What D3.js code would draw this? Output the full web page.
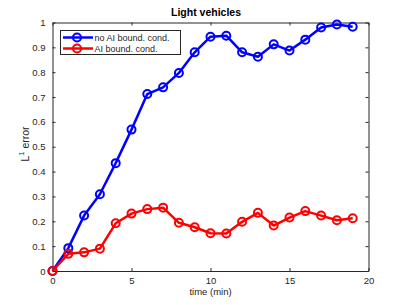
<!DOCTYPE html>
<html>
<head>
<meta charset="utf-8">
<script src="https://cdn.jsdelivr.net/npm/d3@7"></script>
<style>
  body { margin: 0; background: #fff; }
  text { font-family: "Liberation Sans", Arial, sans-serif; }
</style>
</head>
<body>
<div id="chart"></div>
<script>
// Data
const times = [0, 1, 2, 3, 4, 5, 6, 7, 8, 9, 10, 11, 12, 13, 14, 15, 16, 17, 18, 19];
const noAI = [0, 0.092, 0.223, 0.309, 0.434, 0.569, 0.712, 0.739, 0.797, 0.880,
  0.943, 0.947, 0.880, 0.862, 0.912, 0.887, 0.931, 0.980, 0.992, 0.983];
const withAI = [0, 0.069, 0.075, 0.090, 0.192, 0.231, 0.249, 0.255, 0.194, 0.176,
  0.152, 0.151, 0.198, 0.234, 0.183, 0.215, 0.241, 0.223, 0.204, 0.212];
const xTicks = [0, 5, 10, 15, 20];
const yTicks = [0, 0.1, 0.2, 0.3, 0.4, 0.5, 0.6, 0.7, 0.8, 0.9, 1];
const seriesNames = ["no AI bound. cond.", "AI bound. cond."];
const seriesColors = ["#0000ff", "#ff0000"];

const w = 407;
const h = 305;
const plotL = 52.5, plotR = 368.5, plotT = 22.5, plotB = 271;

const xScale = d3.scaleLinear().domain([0, 20]).range([plotL, plotR]);
const yScale = d3.scaleLinear().domain([0, 1]).range([plotB, plotT]);

const svg = d3.select("#chart")
  .append("svg")
  .attr("width", w)
  .attr("height", h);

const axisColor = "#262626";
const tickLen = 3;

// Bottom / left axes with inside ticks
const xAxis = d3.axisBottom(xScale).tickValues(xTicks).tickSizeInner(-tickLen).tickSizeOuter(0).tickPadding(6);
const yAxis = d3.axisLeft(yScale).tickValues(yTicks).tickSizeInner(-tickLen).tickSizeOuter(0).tickPadding(7)
  .tickFormat(d => d3.format("")(+d.toFixed(1)));

// Top / right (box) with ticks, no labels
const xTop = d3.axisTop(xScale).tickValues(xTicks).tickSizeInner(-tickLen).tickSizeOuter(0).tickFormat("");
const yRight = d3.axisRight(yScale).tickValues(yTicks).tickSizeInner(-tickLen).tickSizeOuter(0).tickFormat("");

function styleAxis(g) {
  g.select(".domain").attr("stroke", axisColor);
  g.selectAll(".tick line").attr("stroke", axisColor);
  g.selectAll(".tick text").attr("fill", axisColor).style("font-size", "9.5px")
    .style("font-family", '"Liberation Sans", Arial, sans-serif');
}

svg.append("g").attr("transform", `translate(0, ${plotB})`).call(xAxis).call(styleAxis);
svg.append("g").attr("transform", `translate(${plotL}, 0)`).call(yAxis).call(styleAxis);
svg.append("g").attr("transform", `translate(0, ${plotT})`).call(xTop).call(styleAxis);
svg.append("g").attr("transform", `translate(${plotR}, 0)`).call(yRight).call(styleAxis);

// Title and labels
svg.append("text")
  .attr("x", 206)
  .attr("y", 16)
  .attr("text-anchor", "middle")
  .style("font-size", "10.5px")
  .style("font-weight", "bold")
  .attr("fill", "#000")
  .text("Light vehicles");

svg.append("text")
  .attr("x", (plotL + plotR) / 2)
  .attr("y", 295)
  .attr("text-anchor", "middle")
  .style("font-size", "9.5px")
  .attr("fill", axisColor)
  .text("time (min)");

const yl = svg.append("text")
  .attr("transform", `translate(28.5, 144) rotate(-90)`)
  .attr("text-anchor", "middle")
  .style("font-size", "10.5px")
  .attr("fill", axisColor);
yl.append("tspan").text("L");
yl.append("tspan").attr("dy", -4.5).style("font-size", "7.5px").text("1");
yl.append("tspan").attr("dy", 4.5).text(" error");

// Series
const line = d3.line()
  .x((d, i) => xScale(times[i]))
  .y(d => yScale(d));

[noAI, withAI].forEach((vals, k) => {
  const g = svg.append("g");
  g.append("path")
    .datum(vals)
    .attr("fill", "none")
    .attr("stroke", seriesColors[k])
    .attr("stroke-width", 2.5)
    .attr("stroke-linejoin", "round")
    .attr("d", line);
  g.selectAll("circle")
    .data(vals)
    .enter()
    .append("circle")
    .attr("cx", (d, i) => xScale(times[i]))
    .attr("cy", d => yScale(d))
    .attr("r", 4)
    .attr("fill", "none")
    .attr("stroke", seriesColors[k])
    .attr("stroke-width", 2);
});

// Legend
const legend = svg.append("g");
legend.append("rect")
  .attr("x", 60.5).attr("y", 30.5)
  .attr("width", 120).attr("height", 24)
  .attr("fill", "#fff")
  .attr("stroke", axisColor)
  .attr("stroke-width", 1);

seriesNames.forEach((name, k) => {
  const yy = 37.5 + k * 11;
  legend.append("line")
    .attr("x1", 63).attr("x2", 93)
    .attr("y1", yy).attr("y2", yy)
    .attr("stroke", seriesColors[k])
    .attr("stroke-width", 2.5);
  legend.append("circle")
    .attr("cx", 77).attr("cy", yy).attr("r", 4)
    .attr("fill", "none")
    .attr("stroke", seriesColors[k])
    .attr("stroke-width", 2);
  legend.append("text")
    .attr("x", 94.5).attr("y", yy + 3.3)
    .style("font-size", "9px")
    .attr("fill", axisColor)
    .text(name);
});
</script>
</body>
</html>
